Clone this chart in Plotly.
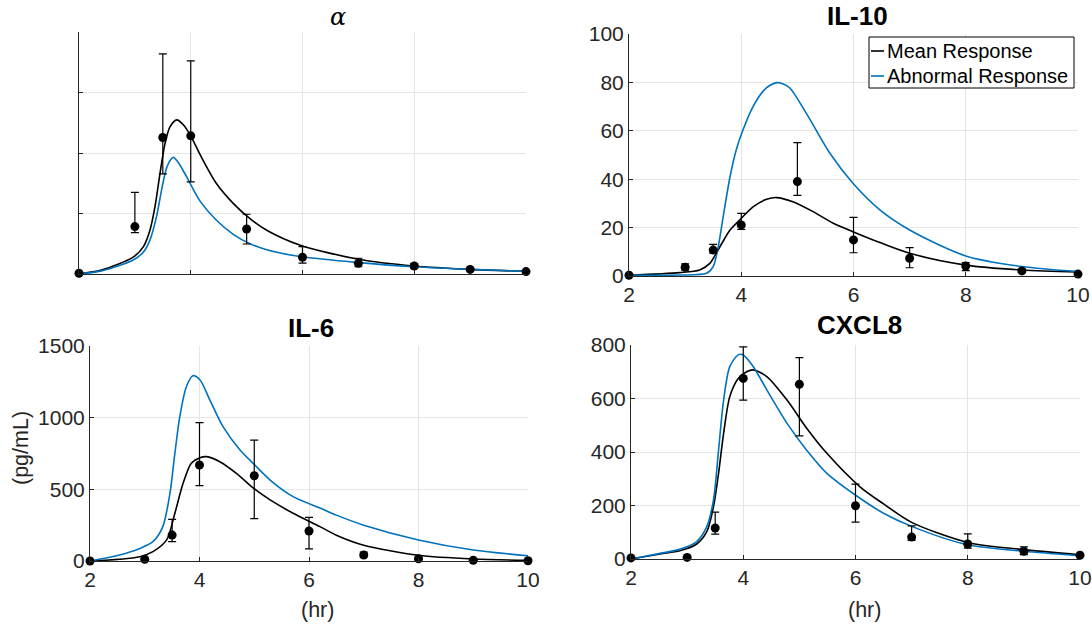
import plotly.graph_objects as go

# ---- measured time points (hr) ----
t_obs = [2, 3, 3.5, 4, 5, 6, 7, 8, 9, 10]

# alpha (dimensionless, scaled 0-1)
alpha_obs = [0.003, 0.196, 0.564, 0.571, 0.186, 0.069, 0.044, 0.033, 0.019, 0.010]
alpha_hi = [0.003, 0.337, 0.910, 0.881, 0.247, 0.113, 0.065, 0.043, 0.024, 0.012]
alpha_lo = [0.003, 0.171, 0.414, 0.381, 0.124, 0.045, 0.030, 0.024, 0.015, 0.008]

# IL-10 (pg/mL)
il10_obs = [0.3, 3.6, 10.7, 21.1, 39.0, 14.9, 7.3, 4.1, 2.1, 0.8]
il10_hi = [0.3, 5.0, 13.1, 25.9, 55.1, 24.2, 11.7, 5.5, 2.8, 1.0]
il10_lo = [0.3, 2.4, 9.4, 19.3, 33.3, 9.6, 3.4, 2.2, 1.5, 0.6]

# IL-6 (pg/mL)
il6_obs = [0, 12, 181, 670, 595, 209, 42, 16, 5, 2]
il6_hi = [0, 18, 291, 965, 844, 305, 62, 22, 8, 3]
il6_lo = [0, 6, 135, 526, 295, 84, 28, 10, 2, 1]

# CXCL8 (pg/mL)
cxcl8_obs = [4, 6, 116, 675, 653, 199, 82, 56, 29, 14]
cxcl8_hi = [4, 8, 175, 793, 753, 280, 124, 94, 45, 18]
cxcl8_lo = [4, 4, 93, 594, 460, 138, 70, 41, 16, 10]

# ---- model responses ----
alpha_mean_t = [2, 2.4, 2.97, 3.15, 3.27, 3.36, 3.45, 3.54, 3.63, 3.75, 3.87, 3.99, 4.17,
                4.46, 4.76, 5.06, 5.36, 5.96, 7, 8, 9, 10]
alpha_mean = [0, 0.016, 0.070, 0.112, 0.181, 0.278, 0.416, 0.540, 0.609, 0.637, 0.616, 0.575,
              0.492, 0.374, 0.292, 0.229, 0.181, 0.119, 0.061, 0.033, 0.019, 0.011]
alpha_abn_t = [2, 2.4, 2.97, 3.15, 3.27, 3.39, 3.48, 3.57, 3.65, 3.69, 3.78, 3.93, 4.17,
               4.46, 4.76, 5.06, 5.36, 5.96, 7, 8, 9, 10]
alpha_abn = [0, 0.013, 0.058, 0.090, 0.140, 0.240, 0.350, 0.440, 0.475, 0.482, 0.460, 0.400,
             0.300, 0.222, 0.164, 0.125, 0.100, 0.072, 0.047, 0.030, 0.019, 0.011]

il10_mean_t = [2, 2.9, 3.26, 3.44, 3.62, 3.8, 3.97, 4.21, 4.45, 4.63, 4.92, 5.28, 5.64, 5.99,
               6.47, 7, 8, 9, 10]
il10_mean = [0.3, 1.4, 2.5, 5.2, 12.1, 19.0, 23.1, 28.6, 31.7, 32.4, 30.7, 26.6, 21.8, 18.3,
             13.8, 9.4, 4.5, 2.5, 1.7]
il10_abn_t = [2, 2.9, 3.38, 3.5, 3.59, 3.68, 3.8, 3.91, 4.03, 4.21, 4.39, 4.5, 4.63, 4.75,
              4.87, 5.16, 5.58, 5.99, 6.47, 7, 8, 9, 10]
il10_abn = [0.3, 0.4, 1.1, 3.9, 12.1, 24.8, 41.0, 52.1, 60.3, 70.0, 76.4, 78.6, 79.9, 79.3,
            77.6, 67.2, 50.7, 38.3, 27.3, 19.0, 8.3, 3.9, 1.8]

il6_mean_t = [2, 2.54, 2.91, 3.15, 3.4, 3.55, 3.7, 3.85, 4.01, 4.13, 4.37, 4.68, 4.98, 5.29,
              5.71, 6.2, 6.5, 7, 8, 9, 10]
il6_mean = [0, 12, 30, 65, 147, 333, 542, 682, 721, 728, 693, 610, 510, 426, 333, 240, 180,
            110, 40, 14, 5]
il6_abn_t = [2, 2.54, 2.91, 3.15, 3.33, 3.46, 3.55, 3.64, 3.76, 3.88, 4.01, 4.19, 4.43, 4.74,
             4.98, 5.29, 5.71, 6.2, 6.5, 7, 8, 9, 10]
il6_abn = [0, 42, 88, 135, 240, 472, 751, 1007, 1216, 1293, 1263, 1123, 937, 774, 681, 565,
           449, 370, 320, 250, 147, 77, 37]

cxcl8_mean_t = [2, 2.52, 2.87, 3.17, 3.35, 3.47, 3.56, 3.65, 3.76, 3.91, 4.06, 4.18, 4.42,
                4.78, 5.13, 5.49, 6.08, 6.5, 7, 8, 9, 10]
cxcl8_mean = [0, 19, 31, 56, 102, 196, 320, 470, 607, 675, 700, 707, 682, 594, 489, 395, 270,
              206, 137, 62, 35, 16]
cxcl8_abn_t = [2, 2.52, 2.87, 3.17, 3.35, 3.47, 3.56, 3.65, 3.76, 3.91, 4.0, 4.18, 4.42, 4.78,
               5.13, 5.49, 6.08, 6.5, 7, 8, 9, 10]
cxcl8_abn = [0, 21, 36, 65, 121, 221, 407, 594, 719, 763, 763, 719, 632, 507, 407, 320, 227,
             171, 122, 53, 29, 12]

x_ticks = [2, 4, 6, 8, 10]
legend_names = ["Mean Response", "Abnormal Response"]

BLACK = "#000000"
BLUE = "#0072BD"
AXIS = "#262626"
GRID = "#E5E5E5"
FONT = "Liberation Sans, Arial, sans-serif"
W, H = 1092, 626

panels = [
    dict(obs=alpha_obs, hi=alpha_hi, lo=alpha_lo, mt=alpha_mean_t, m=alpha_mean,
         at=alpha_abn_t, a=alpha_abn, yr=[0, 1], dt=0.25,
         xd=[79, 526], yd=[32, 274], labels=False),
    dict(obs=il10_obs, hi=il10_hi, lo=il10_lo, mt=il10_mean_t, m=il10_mean,
         at=il10_abn_t, a=il10_abn, yr=[0, 100], dt=20,
         xd=[629, 1078], yd=[34, 276], labels=True),
    dict(obs=il6_obs, hi=il6_hi, lo=il6_lo, mt=il6_mean_t, m=il6_mean,
         at=il6_abn_t, a=il6_abn, yr=[0, 1500], dt=500,
         xd=[90, 528], yd=[346, 561], labels=True),
    dict(obs=cxcl8_obs, hi=cxcl8_hi, lo=cxcl8_lo, mt=cxcl8_mean_t, m=cxcl8_mean,
         at=cxcl8_abn_t, a=cxcl8_abn, yr=[0, 800], dt=200,
         xd=[631, 1080], yd=[345, 559], labels=True),
]

fig = go.Figure()
layout = {}
for i, p in enumerate(panels):
    n = "" if i == 0 else str(i + 1)
    xa, ya = "x" + n, "y" + n
    fig.add_trace(go.Scatter(
        x=p["mt"], y=p["m"], xaxis=xa, yaxis=ya, mode="lines",
        line=dict(color=BLACK, width=1.6, shape="spline", smoothing=0.8),
        name=legend_names[0], showlegend=False))
    fig.add_trace(go.Scatter(
        x=p["at"], y=p["a"], xaxis=xa, yaxis=ya, mode="lines",
        line=dict(color=BLUE, width=1.6, shape="spline", smoothing=0.8),
        name=legend_names[1], showlegend=False))
    plus = [h - o for h, o in zip(p["hi"], p["obs"])]
    minus = [o - l for o, l in zip(p["obs"], p["lo"])]
    fig.add_trace(go.Scatter(
        x=t_obs, y=p["obs"], xaxis=xa, yaxis=ya, mode="markers",
        marker=dict(color=BLACK, size=9),
        error_y=dict(type="data", symmetric=False, array=plus, arrayminus=minus,
                     color=BLACK, thickness=1.2, width=4),
        cliponaxis=False, showlegend=False))

    common = dict(showline=True, linecolor=AXIS, linewidth=1, ticks="inside",
                  ticklen=4, tickcolor=AXIS, showgrid=True, gridcolor=GRID,
                  gridwidth=1, zeroline=False, mirror=False, automargin=False,
                  tickfont=dict(family=FONT, size=21, color=AXIS),
                  showticklabels=p["labels"])
    layout["xaxis" + n] = dict(common, domain=[p["xd"][0] / W, p["xd"][1] / W],
                               range=[2, 10], tickvals=x_ticks, anchor=ya)
    layout["yaxis" + n] = dict(common, domain=[1 - p["yd"][1] / H, 1 - p["yd"][0] / H],
                               range=p["yr"], dtick=p["dt"], tick0=0, anchor=xa)

fig.update_layout(**layout)


def paper_text(text, px, py, size, family=FONT, color="#000000", angle=0, xanchor="center"):
    fig.add_annotation(text=text, xref="paper", yref="paper",
                       x=px / W, y=1 - py / H, xanchor=xanchor, yanchor="middle",
                       showarrow=False, textangle=angle,
                       font=dict(family=family, size=size, color=color))


# panel titles
paper_text("<i>α</i>", 338, 17, 24, family="DejaVu Serif, serif")
paper_text("<b>IL-10</b>", 857, 16, 26)
paper_text("<b>IL-6</b>", 311, 328, 26)
paper_text("<b>CXCL8</b>", 859, 325, 26)

# axis labels
paper_text("(hr)", 317, 610, 21.5, color=AXIS)
paper_text("(hr)", 864, 610, 21.5, color=AXIS)
paper_text("(pg/mL)", 21, 448, 21.5, color=AXIS, angle=-90)

# legend box for the IL-10 panel
box = dict(x0=869, x1=1074, y0=37, y1=88)
fig.add_shape(type="rect", xref="paper", yref="paper",
              x0=box["x0"] / W, x1=box["x1"] / W, y0=1 - box["y1"] / H, y1=1 - box["y0"] / H,
              line=dict(color="#000000", width=1), fillcolor="white", layer="above")
for name, color, cy in [(legend_names[0], BLACK, 51), (legend_names[1], BLUE, 76)]:
    fig.add_shape(type="line", xref="paper", yref="paper",
                  x0=871 / W, x1=884 / W, y0=1 - cy / H, y1=1 - cy / H,
                  line=dict(color=color, width=1.6), layer="above")
    paper_text(name, 885, cy, 20, xanchor="left")

fig.update_layout(
    width=W, height=H, autosize=False,
    margin=dict(l=0, r=0, t=0, b=0),
    paper_bgcolor="white", plot_bgcolor="white",
    font=dict(family=FONT, color=AXIS),
    showlegend=False,
)

fig.write_html("out.html")
